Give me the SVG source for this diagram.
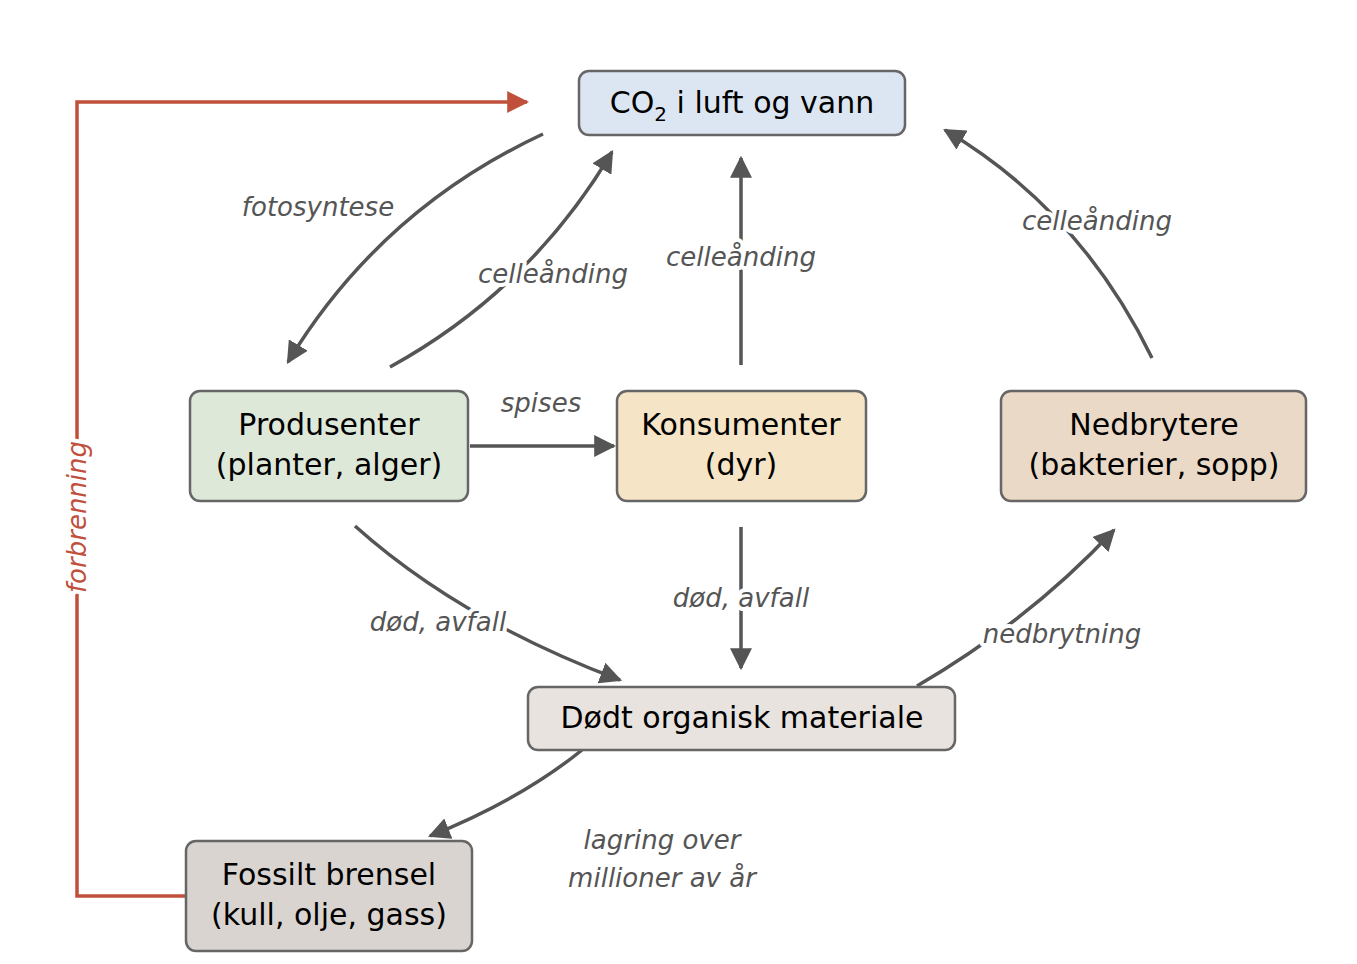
<svg xmlns="http://www.w3.org/2000/svg" width="1357" height="964" viewBox="0 0 1357 964">
<style>
.n{stroke:#666;stroke-width:2.5}
.t{font-family:"DejaVu Sans",sans-serif;font-size:30px;fill:#000;text-anchor:middle}
.c{fill:none;stroke:#555;stroke-width:3.5}
.l{font-family:"DejaVu Sans",sans-serif;font-style:italic;font-size:26px;fill:#555;text-anchor:middle;stroke:#fff;stroke-width:8px;paint-order:stroke;stroke-linejoin:round}
</style>
<defs>
<marker id="a" viewBox="0 0 10 10" refX="9" refY="5" markerWidth="22" markerHeight="22" markerUnits="userSpaceOnUse" orient="auto"><path d="M0,0L10,5L0,10z" fill="#555"/></marker>
<marker id="r" viewBox="0 0 10 10" refX="9" refY="5" markerWidth="22" markerHeight="22" markerUnits="userSpaceOnUse" orient="auto"><path d="M0,0L10,5L0,10z" fill="#c0503c"/></marker>
</defs>
<rect width="1357" height="964" fill="#fff"/>
<g id="connectors">
<path class="c" d="M543,134 Q380,210 288,362" marker-end="url(#a)"/>
<path class="c" d="M390,367 Q530,290 612,152" marker-end="url(#a)"/>
<path class="c" d="M741,365 L741,158" marker-end="url(#a)"/>
<path class="c" d="M1152,358 Q1080,210 945,130" marker-end="url(#a)"/>
<path class="c" d="M470,446 L614,446" marker-end="url(#a)"/>
<path class="c" d="M355,526 Q460,620 620,680" marker-end="url(#a)"/>
<path class="c" d="M741,527 L741,668" marker-end="url(#a)"/>
<path class="c" d="M917,686 Q1030,620 1114,530" marker-end="url(#a)"/>
<path class="c" d="M582,750 Q520,800 430,836" marker-end="url(#a)"/>
<path fill="none" stroke="#c0503c" stroke-width="3.5" d="M186,896 L77,896 L77,102 L527,102" marker-end="url(#r)"/>
<text class="l" x="318" y="216">fotosyntese</text>
<text class="l" x="553" y="283">celleånding</text>
<text class="l" x="741" y="266">celleånding</text>
<text class="l" x="1097" y="230">celleånding</text>
<text class="l" x="541" y="412">spises</text>
<text class="l" x="438" y="631">død, avfall</text>
<text class="l" x="741" y="607">død, avfall</text>
<text class="l" x="1062" y="643">nedbrytning</text>
<text class="l" x="662" y="849">lagring over</text>
<text class="l" x="662" y="887">millioner av år</text>
<text class="l" x="0" y="0" style="fill:#c0503c" transform="translate(86,517) rotate(-90)">forbrenning</text>
</g>
<g id="co2"><rect class="n" x="579" y="71" width="326" height="64" rx="10" fill="#dce6f2"/><text class="t" x="742" y="113">CO<tspan font-size="20" dy="8">2</tspan><tspan dy="-8"> i luft og vann</tspan></text></g>
<g id="produsenter"><rect class="n" x="190" y="391" width="278" height="110" rx="10" fill="#dde8d8"/><text class="t" x="329" y="435">Produsenter</text><text class="t" x="329" y="475">(planter, alger)</text></g>
<g id="konsumenter"><rect class="n" x="617" y="391" width="249" height="110" rx="10" fill="#f6e4c6"/><text class="t" x="741" y="435">Konsumenter</text><text class="t" x="741" y="475">(dyr)</text></g>
<g id="nedbrytere"><rect class="n" x="1001" y="391" width="305" height="110" rx="10" fill="#ead9c6"/><text class="t" x="1154" y="435">Nedbrytere</text><text class="t" x="1154" y="475">(bakterier, sopp)</text></g>
<g id="dodt"><rect class="n" x="528" y="687" width="427" height="63" rx="10" fill="#e8e3de"/><text class="t" x="742" y="728">Dødt organisk materiale</text></g>
<g id="fossilt"><rect class="n" x="186" y="841" width="286" height="110" rx="10" fill="#d9d4d0"/><text class="t" x="329" y="885">Fossilt brensel</text><text class="t" x="329" y="925">(kull, olje, gass)</text></g>
</svg>
